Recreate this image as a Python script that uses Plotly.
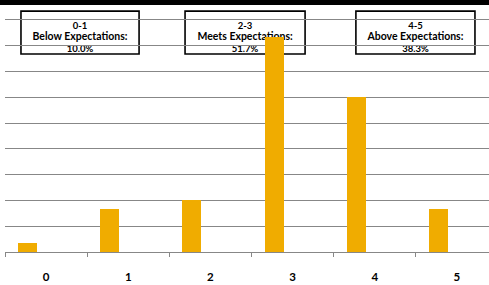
import plotly.graph_objects as go

categories = ["0", "1", "2", "3", "4", "5"]
percent_values = [1.7, 8.3, 10.0, 41.7, 30.0, 8.3]

group_ranges = ["0-1", "2-3", "4-5"]
group_names = ["Below Expectations:", "Meets Expectations:", "Above Expectations:"]
group_pcts = ["10.0%", "51.7%", "38.3%"]

BAR_COLOR = "#F0AC00"
GRID = "#878787"
FONT = "Lato"

fig = go.Figure()
fig.add_trace(go.Bar(
    x=categories, y=percent_values,
    marker=dict(color=BAR_COLOR, line=dict(width=0)),
    width=0.23, offset=-0.34,
    hoverinfo="skip",
))

# annotation boxes (x in paper units of the plot area, y in data units)
box_x = [(0.033, 0.277), (0.372, 0.620), (0.725, 0.971)]
line_rows = [(44.1, 9.5), (41.9, 10.5), (39.6, 9.5)]  # (centre y, font size)
for (x0, x1), r, n, p in zip(box_x, group_ranges, group_names, group_pcts):
    fig.add_shape(
        type="rect", xref="paper", yref="y",
        x0=x0, x1=x1, y0=38.4, y1=46.7,
        line=dict(color="black", width=1.6),
        fillcolor="white", layer="below",
    )
    for txt, (yc, fs) in zip([r, n, p], line_rows):
        fig.add_shape(
            type="rect", xref="paper", yref="y",
            x0=x0, x1=x1, y0=yc - 1, y1=yc + 1,
            line=dict(width=0), fillcolor="rgba(0,0,0,0)", layer="below",
            label=dict(
                text=txt, textposition="middle center",
                font=dict(family=FONT, size=fs, color="black", weight="bold"),
            ),
        )

# black strip at the very top of the picture
fig.add_shape(
    type="rect", xref="paper", yref="paper",
    x0=-0.02, x1=1.02, y0=1 + 1 / 246, y1=1 + 6 / 246,
    line=dict(width=0), fillcolor="black", layer="above",
)

fig.update_layout(
    width=489, height=285,
    margin=dict(l=5, r=0, t=6, b=33),
    paper_bgcolor="white", plot_bgcolor="white",
    showlegend=False,
    bargap=0,
    font=dict(family=FONT, color="black"),
)
fig.update_xaxes(
    type="category", range=[-0.5, 5.39],
    tickson="boundaries", ticks="outside", ticklen=4, tickcolor=GRID, tickwidth=1,
    showline=True, linecolor=GRID, linewidth=1,
    showgrid=False, zeroline=False,
    tickfont=dict(family=FONT, size=11.5, color="black", weight="bold"),
    ticklabelstandoff=14,
)
fig.update_yaxes(
    range=[0, 47.7], dtick=5,
    showgrid=True, gridcolor=GRID, gridwidth=1,
    showticklabels=False, zeroline=False, showline=False, ticks="",
)

fig.write_html(
    "out.html",
    config={"displayModeBar": False},
    post_script="document.body.style.margin='0';document.body.style.overflow='hidden';",
)
